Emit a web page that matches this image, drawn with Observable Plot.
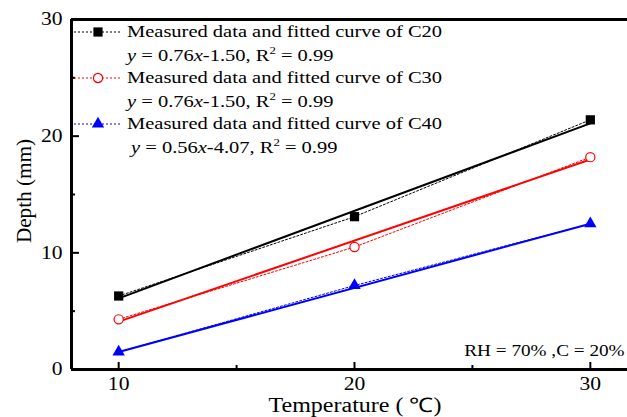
<!DOCTYPE html>
<html><head><meta charset="utf-8">
<script src="https://cdn.jsdelivr.net/npm/d3@7"></script>
<script src="https://cdn.jsdelivr.net/npm/@observablehq/plot@0.6"></script>
<style>
body{margin:0;background:#fff;}
#wrap{position:relative;width:627px;height:417px;overflow:hidden;font-family:"Liberation Serif","Times New Roman",serif;color:#000;}
#wrap svg.plot{position:absolute;left:0;top:0;}
#wrap svg text{font-family:"Liberation Serif","Times New Roman",serif !important;}
.txt{position:absolute;white-space:nowrap;}
.leg{font-size:16px;line-height:16px;transform-origin:0 50%;transform:scaleX(1.28);}
.leg sup{font-size:10px;vertical-align:0;position:relative;top:-7px;}
#legsym{position:absolute;left:0;top:0;}
</style></head><body><div id="wrap"></div>
<script>
// ---- data ----
const temperatures = [10, 20, 30];
const seriesNames = ["C20", "C30", "C40"];
const depthC20 = [6.3, 13.1, 21.4];
const depthC30 = [4.3, 10.5, 18.2];
const depthC40 = [1.5, 7.2, 12.5];
const fitTemps = [10, 30];
const fitC20 = [6.1, 21.1];
const fitC30 = [4.1, 18.0];
const fitC40 = [1.5, 12.5];
const legendLabels = ["Measured data and fitted curve of C20", "Measured data and fitted curve of C30", "Measured data and fitted curve of C40"];
const equations = [["0.76", "1.50", "0.99"], ["0.76", "1.50", "0.99"], ["0.56", "4.07", "0.99"]];
const colors = ["#000000", "#ff0000", "#0000ff"];
const symbols = ["square", "circle", "triangle"];
const yTicks = [0, 10, 20, 30];
const yMinor = [5, 15, 25];
const xTicks = [10, 20, 30];
const xMinor = [15, 25];
const xLabel = "Temperature ( \u2103)";
const yLabel = "Depth (mm)";
const note = "RH = 70% ,C = 20%";

const depths = [depthC20, depthC30, depthC40];
const fits = [fitC20, fitC30, fitC40];
const rows = [], fitRows = [];
seriesNames.forEach((s, i) => {
  temperatures.forEach((t, j) => rows.push({series: s, t, d: depths[i][j]}));
  fitTemps.forEach((t, j) => fitRows.push({series: s, t, d: fits[i][j]}));
});

const serif = "Liberation Serif";
const dotMarks = seriesNames.map((s, i) => Plot.dot(rows.filter(r => r.series === s), {
  x: "t", y: "d", symbol: symbols[i],
  r: symbols[i] === "square" ? 5.2 : 4.6,
  fill: symbols[i] === "circle" ? "white" : colors[i],
  stroke: colors[i], strokeWidth: symbols[i] === "circle" ? 1.2 : 0
}));

const chart = Plot.plot({
  width: 627, height: 417,
  marginLeft: 71, marginRight: -10, marginTop: 19, marginBottom: 48,
  x: {domain: [8, 32]},
  y: {domain: [0, 30]},
  color: {domain: seriesNames, range: colors},
  style: {fontFamily: serif, fontSize: "18px", color: "#000", background: "transparent"},
  marks: [
    Plot.line(rows, {x: "t", y: "d", z: "series", stroke: "series", strokeWidth: 1, strokeDasharray: "2,2"}),
    Plot.line(fitRows, {x: "t", y: "d", z: "series", stroke: "series", strokeWidth: 2}),
    ...dotMarks,
    Plot.axisY(yTicks, {tickSize: -8, strokeWidth: 2, tickFormat: () => "", label: null}),
    Plot.axisY(yMinor, {tickSize: -4, strokeWidth: 2, tickFormat: () => "", label: null}),
    Plot.axisY(yTicks, {tickSize: 0, tickPadding: 9, label: null, fontSize: 18, fontFamily: serif}),
    Plot.axisX(xTicks, {tickSize: -7, strokeWidth: 2, tickFormat: () => "", label: null}),
    Plot.axisX(xMinor, {tickSize: -4, strokeWidth: 2, tickFormat: () => "", label: null}),
    Plot.axisX(xTicks, {tickSize: 0, tickPadding: 8, label: null, fontSize: 18, fontFamily: serif}),
    Plot.ruleX([8], {strokeWidth: 3}),
    Plot.ruleY([0], {strokeWidth: 3}),
    Plot.ruleY([30], {strokeWidth: 3})
  ]
});
chart.classList.add("plot");
const wrap = document.getElementById("wrap");
wrap.appendChild(chart);

// widen the tick labels like the reference's stretched serif glyphs
chart.querySelectorAll("text").forEach(t => {
  if (!t.textContent) return;
  const bb = t.getBBox();
  const anchor = getComputedStyle(t).textAnchor;
  const ax = anchor === "end" ? bb.x + bb.width : anchor === "middle" ? bb.x + bb.width / 2 : bb.x;
  const old = t.getAttribute("transform") || "";
  t.setAttribute("transform", `${old} translate(${ax},0) scale(1.2,1) translate(${-ax},0)`);
});

function addText(content, css, html) {
  const d = document.createElement("div");
  d.className = "txt";
  if (html) d.innerHTML = content; else d.textContent = content;
  Object.assign(d.style, css);
  wrap.appendChild(d);
  return d;
}
// axis titles and note
addText(xLabel, {left: "355px", top: "398px", fontSize: "20px", lineHeight: "14px", transformOrigin: "50% 50%", transform: "translateX(-50%) scaleX(1.2)"});
addText(yLabel, {left: "24px", top: "191px", fontSize: "20px", lineHeight: "20px", transformOrigin: "50% 50%", transform: "translate(-50%,-50%) rotate(-90deg) scaleX(1.06)"});
addText(note, {right: "2px", top: "343px", fontSize: "16px", lineHeight: "16px", transformOrigin: "100% 50%", transform: "scaleX(1.2)"});

// legend
const rowY = [32, 78, 124];
const eqY = [56, 102, 148];
const eqX = [127, 127, 131];
const sym = d3.select(wrap).append("svg").attr("id", "legsym").attr("width", 627).attr("height", 417);
seriesNames.forEach((s, i) => {
  sym.append("line").attr("x1", 74).attr("x2", 122).attr("y1", rowY[i]).attr("y2", rowY[i])
    .attr("stroke", colors[i]).attr("stroke-width", 1).attr("stroke-dasharray", "2,2");
  const shape = d3.symbol().type(symbols[i] === "square" ? d3.symbolSquare : symbols[i] === "circle" ? d3.symbolCircle : d3.symbolTriangle)
    .size(symbols[i] === "square" ? 85 : 66);
  sym.append("path").attr("d", shape()).attr("transform", `translate(98,${rowY[i]})`)
    .attr("fill", symbols[i] === "circle" ? "white" : colors[i])
    .attr("stroke", colors[i]).attr("stroke-width", symbols[i] === "circle" ? 1.2 : 0);
  const t = addText(legendLabels[i], {left: "127px", top: (rowY[i] - 8) + "px"});
  t.classList.add("leg");
  const [a, b, r2] = equations[i];
  const e = addText(`<i>y</i> = ${a}<i>x</i>-${b}, R<sup>2</sup> = ${r2}`, {left: eqX[i] + "px", top: (eqY[i] - 8) + "px"}, true);
  e.classList.add("leg");
});
</script></body></html>
